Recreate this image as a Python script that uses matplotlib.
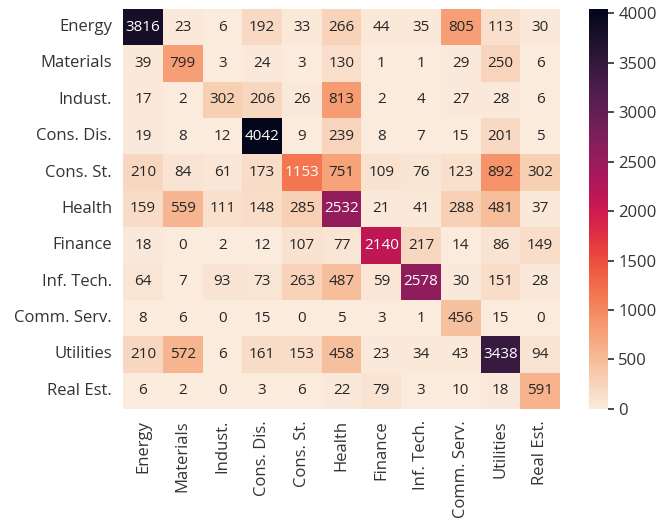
import numpy as np
import matplotlib
matplotlib.use("Agg")
import matplotlib.pyplot as plt
import seaborn as sns

sectors = ["Energy", "Materials", "Indust.", "Cons. Dis.", "Cons. St.", "Health",
           "Finance", "Inf. Tech.", "Comm. Serv.", "Utilities", "Real Est."]

row_energy = [3816, 23, 6, 192, 33, 266, 44, 35, 805, 113, 30]
row_materials = [39, 799, 3, 24, 3, 130, 1, 1, 29, 250, 6]
row_indust = [17, 2, 302, 206, 26, 813, 2, 4, 27, 28, 6]
row_consdis = [19, 8, 12, 4042, 9, 239, 8, 7, 15, 201, 5]
row_consst = [210, 84, 61, 173, 1153, 751, 109, 76, 123, 892, 302]
row_health = [159, 559, 111, 148, 285, 2532, 21, 41, 288, 481, 37]
row_finance = [18, 0, 2, 12, 107, 77, 2140, 217, 14, 86, 149]
row_inftech = [64, 7, 93, 73, 263, 487, 59, 2578, 30, 151, 28]
row_comm = [8, 6, 0, 15, 0, 5, 3, 1, 456, 15, 0]
row_util = [210, 572, 6, 161, 153, 458, 23, 34, 43, 3438, 94]
row_realest = [6, 2, 0, 3, 6, 22, 79, 3, 10, 18, 591]

cm = np.array([row_energy, row_materials, row_indust, row_consdis, row_consst,
               row_health, row_finance, row_inftech, row_comm, row_util, row_realest])

sns.set_theme(style="ticks")
plt.rcParams['font.family'] = ['Open Sans', 'DejaVu Sans']
plt.rcParams['text.color'] = '#333333'
plt.rcParams['xtick.color'] = '#333333'
plt.rcParams['ytick.color'] = '#333333'

fig = plt.figure(figsize=(6.62, 5.25), dpi=100)
ax = fig.add_axes([0.186, 0.221, 0.66, 0.762])
cax = fig.add_axes([0.890, 0.221, 0.028, 0.762])

sns.heatmap(cm, annot=True, fmt="d", cmap="rocket_r", vmin=0, vmax=4042,
            xticklabels=sectors, yticklabels=sectors, ax=ax, cbar_ax=cax,
            annot_kws={"size": 11})

ax.tick_params(axis='both', length=0, labelsize=12, pad=8)
plt.setp(ax.get_xticklabels(), rotation=90)
plt.setp(ax.get_yticklabels(), rotation=0)
cax.tick_params(labelsize=12, length=4)
cax.set_yticks([0, 500, 1000, 1500, 2000, 2500, 3000, 3500, 4000])
for s in cax.spines.values():
    s.set_visible(False)

fig.savefig("out.png", dpi=100)
